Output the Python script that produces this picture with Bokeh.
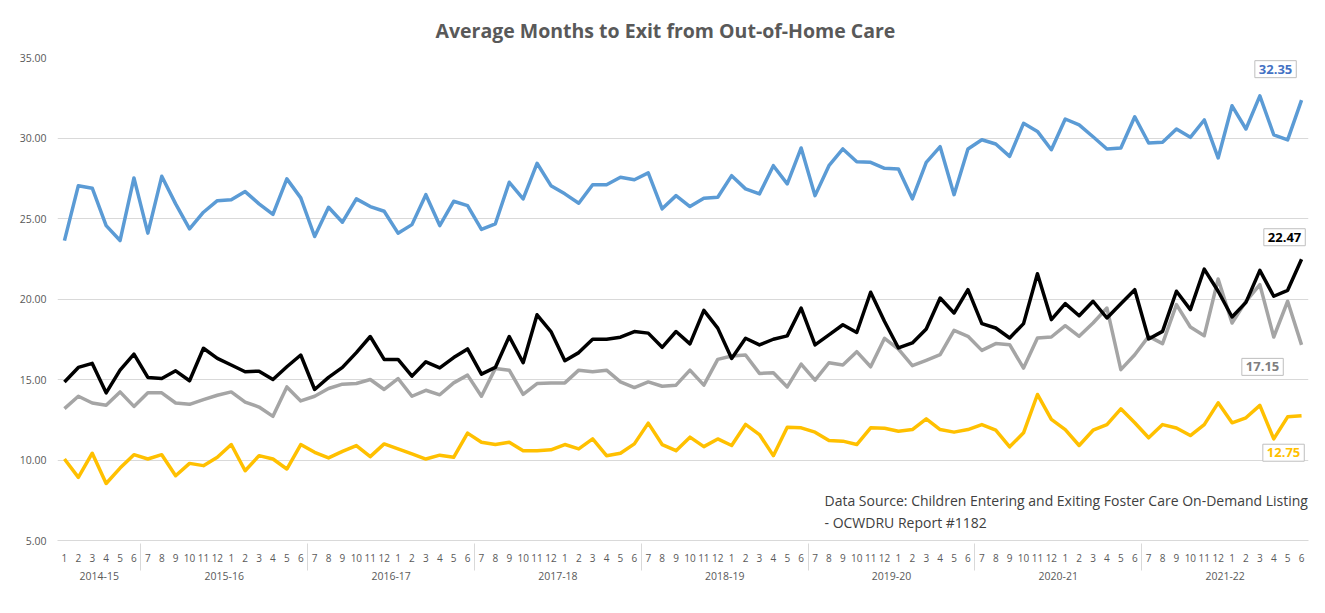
from bokeh.plotting import figure
from bokeh.models import (FactorRange, Range1d, Legend, LegendItem, Label,
                          NumeralTickFormatter, SingleIntervalTicker, ColumnDataSource)
from bokeh.embed import file_html
from bokeh.resources import INLINE

title_text = "Average Months to Exit from Out-of-Home Care"
source_text = "Data Source: Children Entering and Exiting Foster Care On-Demand Listing\n- OCWDRU Report #1182"

fiscal_years = ["2014-15", "2015-16", "2016-17", "2017-18", "2018-19", "2019-20", "2020-21", "2021-22"]
first_year_months = ["1", "2", "3", "4", "5", "6"]
year_months = ["7", "8", "9", "10", "11", "12", "1", "2", "3", "4", "5", "6"]

adoption = [23.63, 27.04, 26.88, 24.56, 23.63, 27.52, 24.09, 27.62, 25.91, 24.36, 25.39, 26.11,
            26.16, 26.67, 25.91, 25.25, 27.46, 26.28, 23.88, 25.70, 24.77, 26.22, 25.74, 25.45,
            24.09, 24.62, 26.48, 24.56, 26.07, 25.80, 24.32, 24.67, 27.25, 26.22, 28.43, 27.04,
            26.53, 25.95, 27.10, 27.10, 27.56, 27.41, 27.83, 25.60, 26.42, 25.74, 26.26, 26.32,
            27.66, 26.84, 26.53, 28.28, 27.15, 29.38, 26.42, 28.28, 29.32, 28.53, 28.49, 28.12,
            28.08, 26.22, 28.49, 29.46, 26.48, 29.32, 29.89, 29.63, 28.86, 30.91, 30.41, 29.27,
            31.18, 30.82, 30.08, 29.32, 29.38, 31.32, 29.69, 29.73, 30.56, 30.04, 31.12, 28.76,
            32.00, 30.56, 32.62, 30.20, 29.88, 32.35]

guardianship = [13.19, 13.96, 13.54, 13.40, 14.23, 13.33, 14.17, 14.17, 13.54, 13.46, 13.75, 14.02,
                14.23, 13.60, 13.29, 12.71, 14.54, 13.67, 13.96, 14.44, 14.71, 14.75, 15.00, 14.38,
                15.06, 13.96, 14.33, 14.05, 14.79, 15.27, 13.96, 15.69, 15.58, 14.08, 14.75, 14.79,
                14.79, 15.58, 15.48, 15.58, 14.85, 14.50, 14.85, 14.58, 14.65, 15.58, 14.65, 16.25,
                16.46, 16.52, 15.38, 15.42, 14.54, 15.96, 14.96, 16.04, 15.90, 16.73, 15.79, 17.56,
                16.89, 15.86, 16.19, 16.54, 18.05, 17.68, 16.81, 17.23, 17.16, 15.71, 17.58, 17.64,
                18.34, 17.68, 18.51, 19.44, 15.61, 16.54, 17.68, 17.23, 19.65, 18.26, 17.72, 21.24,
                18.51, 19.86, 20.89, 17.64, 19.86, 17.15]

reunification = [10.06, 8.92, 10.42, 8.54, 9.50, 10.33, 10.06, 10.33, 9.02, 9.79, 9.65, 10.17,
                 10.96, 9.33, 10.27, 10.06, 9.44, 10.96, 10.48, 10.13, 10.54, 10.90, 10.21, 11.00,
                 10.69, 10.38, 10.06, 10.30, 10.17, 11.67, 11.10, 10.96, 11.10, 10.58, 10.58, 10.63,
                 10.96, 10.69, 11.31, 10.27, 10.42, 11.00, 12.29, 10.96, 10.58, 11.42, 10.83, 11.31,
                 10.90, 12.21, 11.58, 10.27, 12.04, 12.00, 11.73, 11.21, 11.17, 10.96, 12.00, 11.97,
                 11.79, 11.89, 12.56, 11.89, 11.73, 11.89, 12.20, 11.85, 10.82, 11.69, 14.07, 12.52,
                 11.89, 10.90, 11.85, 12.20, 13.18, 12.31, 11.38, 12.20, 11.99, 11.52, 12.20, 13.55,
                 12.31, 12.62, 13.39, 11.31, 12.68, 12.75]

total = [14.85, 15.75, 16.00, 14.17, 15.58, 16.58, 15.13, 15.06, 15.54, 14.92, 16.94, 16.31,
         15.90, 15.48, 15.52, 15.00, 15.79, 16.52, 14.38, 15.13, 15.75, 16.67, 17.67, 16.25,
         16.25, 15.21, 16.10, 15.72, 16.36, 16.90, 15.33, 15.75, 17.67, 16.04, 19.02, 17.98,
         16.17, 16.67, 17.50, 17.50, 17.63, 17.98, 17.88, 17.00, 17.98, 17.21, 19.29, 18.19,
         16.31, 17.56, 17.15, 17.50, 17.71, 19.44, 17.15, 17.77, 18.40, 17.92, 20.42, 18.60,
         16.96, 17.27, 18.14, 20.06, 19.13, 20.58, 18.47, 18.20, 17.58, 18.47, 21.57, 18.72,
         19.71, 18.96, 19.86, 18.82, 19.71, 20.58, 17.52, 17.99, 20.48, 19.34, 21.86, 20.48,
         18.88, 19.79, 21.78, 20.17, 20.54, 22.47]

series_names = ["Adoption", "Guardianship", "Reunification w/ Parent(s)/Primary Caretaker", "Total"]
series_colors = ["#5B9BD5", "#A5A5A5", "#FFC000", "#000000"]
label_colors = ["#4472C4", "#7F7F7F", "#FFC000", "#000000"]

factors = [(fiscal_years[0], m) for m in first_year_months]
for fy in fiscal_years[1:]:
    factors += [(fy, m) for m in year_months]

src = ColumnDataSource(dict(x=factors, adoption=adoption, guardianship=guardianship,
                            reunification=reunification, total=total))

FONT = "Open Sans"
p = figure(x_range=FactorRange(*factors, group_padding=0, factor_padding=0, range_padding=0),
           y_range=Range1d(5, 35), frame_width=1251, frame_height=483,
           output_backend="svg", toolbar_location=None)
p.min_border_left = 57
p.min_border_right = 17
p.min_border_top = 57
p.min_border_bottom = 73
p.outline_line_color = None
p.background_fill_color = "white"
p.border_fill_color = "white"

p.title.text = title_text
p.title.align = "left"
p.title.offset = 378
p.title.text_font = FONT
p.title.text_font_style = "bold"
p.title.text_font_size = "19.5px"
p.title.text_color = "#595959"
p.title.standoff = 27

p.yaxis.ticker = SingleIntervalTicker(interval=5, num_minor_ticks=0)
p.yaxis.formatter = NumeralTickFormatter(format="0.00")
p.yaxis.axis_line_color = None
p.yaxis.major_tick_line_color = None
p.yaxis.minor_tick_line_color = None
p.yaxis.major_label_text_font = FONT
p.yaxis.major_label_text_font_size = "10.5px"
p.yaxis.major_label_text_color = "#595959"
p.yaxis.major_label_standoff = 5

p.ygrid.grid_line_color = "#D9D9D9"
p.xgrid.grid_line_color = None

xa = p.xaxis[0]
xa.axis_line_color = "#D9D9D9"
xa.major_tick_line_color = None
xa.minor_tick_line_color = None
xa.major_label_text_font = FONT
xa.major_label_text_font_size = "10px"
xa.major_label_text_color = "#595959"
xa.major_label_standoff = 7
xa.group_text_font = FONT
xa.group_text_font_size = "10.5px"
xa.group_text_color = "#595959"
xa.group_text_font_style = "normal"
xa.separator_line_color = "#D9D9D9"
xa.separator_line_width = 1

cols = ["adoption", "guardianship", "reunification", "total"]
renderers = []
for col, color in zip(cols, series_colors):
    r = p.line("x", col, source=src, line_color=color, line_width=3.5, line_join="round")
    renderers.append(r)

legend = Legend(items=[LegendItem(label=n, renderers=[r]) for n, r in zip(series_names, renderers)],
                orientation="horizontal", location="center",
                label_text_font=FONT, label_text_font_size="10px", label_text_color="#595959",
                glyph_width=30, glyph_height=8, spacing=40, padding=0, margin=2,
                label_standoff=2, label_height=10, border_line_color=None,
                background_fill_color=None, background_fill_alpha=0)
p.add_layout(legend, "below")

last_x = len(factors) - 0.5
last_vals = [adoption[-1], guardianship[-1], reunification[-1], total[-1]]
offsets = [(-26, 31), (-39, -22), (-18, -37), (-17, 22)]
for v, c, (dx, dy) in zip(last_vals, label_colors, offsets):
    p.add_layout(Label(x=last_x, y=v, x_offset=dx, y_offset=dy, text=f"{v:.2f}",
                       text_font=FONT, text_font_style="bold", text_font_size="13px",
                       text_color=c, text_align="center", text_baseline="middle",
                       background_fill_color="white", border_line_color="#BFBFBF",
                       padding=4))

p.add_layout(Label(x=767, y=50, x_units="screen", y_units="screen", text=source_text,
                   text_font=FONT, text_font_size="14px", text_color="#404040",
                   text_align="left", text_baseline="top", text_line_height=1.2))

open("out.html", "w").write(file_html(p, INLINE))
